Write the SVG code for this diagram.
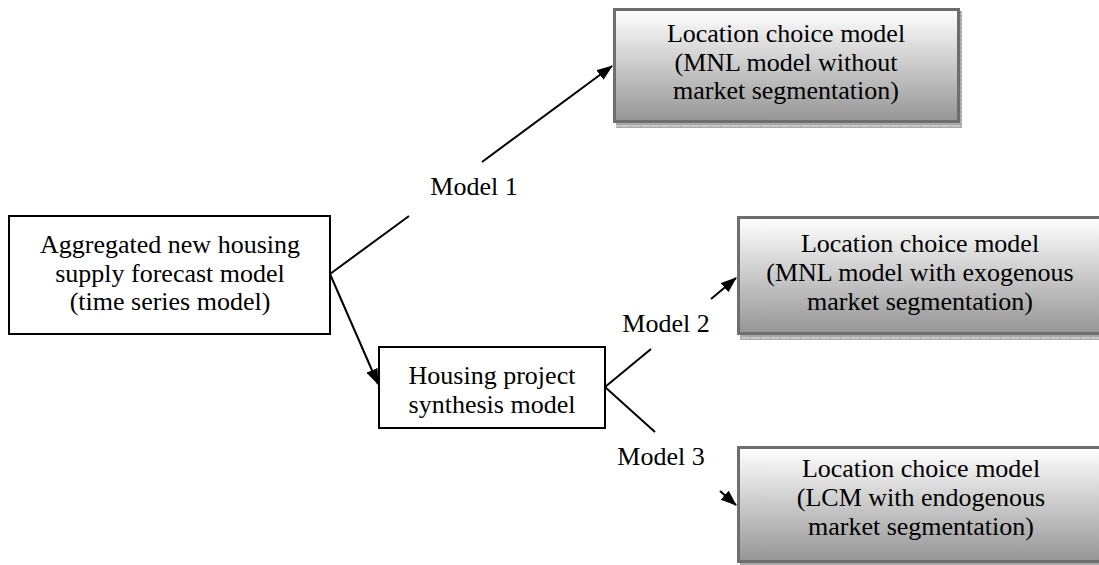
<svg xmlns="http://www.w3.org/2000/svg" width="1099" height="565" viewBox="0 0 1099 565" font-family="'Liberation Serif', 'Times New Roman', Times, 'DejaVu Serif', serif">
<defs>
<linearGradient id="grad" x1="0" y1="0" x2="0" y2="1">
<stop offset="0" stop-color="#ffffff"/>
<stop offset="1" stop-color="#959595"/>
</linearGradient>
<pattern id="hatch" width="10" height="4" patternUnits="userSpaceOnUse">
<rect width="10" height="4" fill="#c8c8c8"/>
<path d="M0 0.5H10M0 3.5H10M0.5 0V4" stroke="#a8a8a8" stroke-width="1"/>
</pattern>
<marker id="arr" viewBox="0 0 16 12" refX="15" refY="6" markerWidth="16" markerHeight="12" markerUnits="userSpaceOnUse" orient="auto">
<path d="M0 0L16 6L0 12z" fill="#000"/>
</marker>
<style>
.t{font-family:'Liberation Serif','Times New Roman',Times,'DejaVu Serif',serif;font-size:26px;fill:#000;text-anchor:middle}
.plain{fill:#fff;stroke:#000;stroke-width:2}
.grey{fill:url(#grad);stroke:#6e6e6e;stroke-width:3}
.shadow{fill:url(#hatch)}
.ln{stroke:#000;stroke-width:2;fill:none}
</style>
</defs>
<g id="connectors">
<line class="ln" x1="330" y1="274" x2="409" y2="216"/>
<line class="ln" x1="482" y1="162" x2="612" y2="66" marker-end="url(#arr)"/>
<line class="ln" x1="330" y1="274" x2="378" y2="384" marker-end="url(#arr)"/>
<line class="ln" x1="605" y1="387" x2="651" y2="349"/>
<line class="ln" x1="711" y1="299" x2="736" y2="278" marker-end="url(#arr)"/>
<line class="ln" x1="605" y1="387" x2="655" y2="432"/>
<line class="ln" x1="720" y1="491" x2="736" y2="505" marker-end="url(#arr)"/>
<text class="t" x="474" y="195">Model 1</text>
<text class="t" x="666" y="332">Model 2</text>
<text class="t" x="661" y="465">Model 3</text>
</g>
<g id="n-aggregated">
<rect class="plain" x="9" y="216" width="321" height="118"/>
<text class="t" x="170" y="253">Aggregated new housing</text>
<text class="t" x="170" y="282">supply forecast model</text>
<text class="t" x="170" y="310">(time series model)</text>
</g>
<g id="n-housing">
<rect class="plain" x="379" y="347" width="226" height="81"/>
<text class="t" x="492" y="384">Housing project</text>
<text class="t" x="492" y="413">synthesis model</text>
</g>
<g id="n-model1">
<rect class="shadow" x="616" y="11" width="346" height="117"/>
<rect class="grey" x="614.5" y="9.5" width="344" height="112"/>
<text class="t" x="786" y="42">Location choice model</text>
<text class="t" x="786" y="71">(MNL model without</text>
<text class="t" x="786" y="99">market segmentation)</text>
</g>
<g id="n-model2">
<rect class="shadow" x="740" y="219" width="362" height="121"/>
<rect class="grey" x="738.5" y="217.5" width="364" height="116"/>
<text class="t" x="920" y="252">Location choice model</text>
<text class="t" x="920" y="281">(MNL model with exogenous</text>
<text class="t" x="920" y="310">market segmentation)</text>
</g>
<g id="n-model3">
<rect class="shadow" x="740" y="449" width="362" height="121"/>
<rect class="grey" x="738.5" y="447.5" width="364" height="114"/>
<text class="t" x="921" y="477">Location choice model</text>
<text class="t" x="921" y="506">(LCM with endogenous</text>
<text class="t" x="921" y="535">market segmentation)</text>
</g>
</svg>
